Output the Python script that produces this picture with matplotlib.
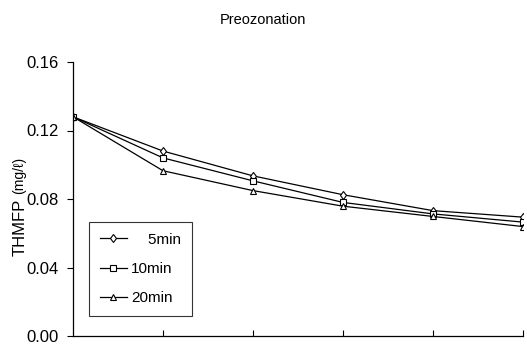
import matplotlib
matplotlib.use("Agg")
import matplotlib.pyplot as plt

# ozonation steps (no tick labels in the original)
steps = [0, 1, 2, 3, 4, 5]
thm_5min = [0.128, 0.108, 0.0935, 0.0825, 0.0732, 0.0694]
thm_10min = [0.128, 0.104, 0.0906, 0.078, 0.0713, 0.0665]
thm_20min = [0.128, 0.0965, 0.0849, 0.0758, 0.0698, 0.0639]
y_ticks = [0.00, 0.04, 0.08, 0.12, 0.16]

plt.rcParams['font.family'] = ['Liberation Sans', 'DejaVu Sans']

fig = plt.figure(figsize=(5.27, 3.45), dpi=100)
ax = fig.add_axes([73 / 527, 9 / 345, 450 / 527, 274 / 345])

kw = dict(color='black', lw=0.9, mfc='white', mec='black', mew=0.8)
ax.plot(steps, thm_5min, marker='d', ms=4.5, label='\u2007\u20075min', **kw)
ax.plot(steps, thm_10min, marker='s', ms=4, label='10min', **kw)
ax.plot(steps, thm_20min, marker='^', ms=4.5, label='20min', **kw)

ax.set_xlim(0, 5)
ax.set_ylim(0, 0.16)
ax.set_yticks(y_ticks)
ax.set_yticklabels([f"{v:.2f}" for v in y_ticks], fontsize=12)
ax.set_xticks(steps[1:])
ax.set_xticklabels([])
ax.tick_params(axis='x', direction='in', length=4, width=0.8)
ax.tick_params(axis='y', direction='out', length=4, width=0.8, pad=6)

ax.spines['top'].set_visible(False)
ax.spines['right'].set_visible(False)
for s in ['left', 'bottom']:
    ax.spines[s].set_linewidth(0.9)

leg = ax.legend(loc='lower left', bbox_to_anchor=(16 / 450, 20 / 274),
                borderaxespad=0, fontsize=11, frameon=True, fancybox=False,
                edgecolor='black', handlelength=1.8, handletextpad=0.25,
                borderpad=0.7, labelspacing=1.0)
leg.get_frame().set_linewidth(0.8)

fig.text(263 / 527, 1 - 20 / 345, "Preozonation", ha='center', va='center', fontsize=10.5)

# y label: "THMFP" with smaller units after it
lab = fig.text(20 / 527, 1 - 256 / 345, "THMFP", rotation=90, ha='center',
               va='bottom', fontsize=12)
fig.canvas.draw()
bb = lab.get_window_extent()
fig.text(19 / 527, (bb.y1 + 5) / 345, "(mg/ℓ)", rotation=90, ha='center',
         va='bottom', fontsize=10)

fig.savefig("out.png", dpi=100)
